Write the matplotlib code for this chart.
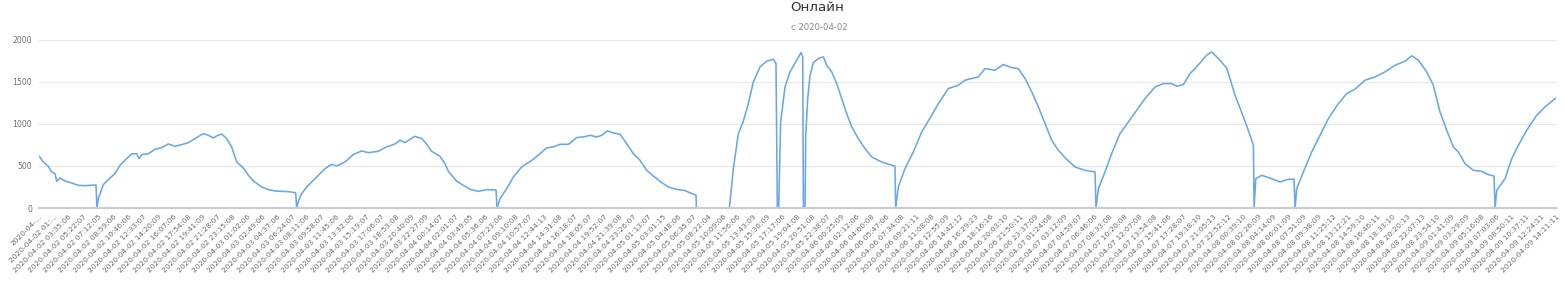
import matplotlib
matplotlib.use("Agg")
import matplotlib.pyplot as plt
import pandas as pd

# ---------------- data ----------------
title = "Онлайн"
subtitle = "с 2020-04-02"

tick_times = [
    "2020-04-02 00:01:06", "2020-04-02 01:48:06", "2020-04-02 03:35:06", "2020-04-02 05:22:07",
    "2020-04-02 07:12:05", "2020-04-02 08:59:06", "2020-04-02 10:46:06", "2020-04-02 12:33:07",
    "2020-04-02 14:20:09", "2020-04-02 16:07:06", "2020-04-02 17:54:08", "2020-04-02 19:41:09",
    "2020-04-02 21:28:07", "2020-04-02 23:15:08",
    "2020-04-03 01:02:06", "2020-04-03 02:49:06", "2020-04-03 04:37:06", "2020-04-03 06:24:07",
    "2020-04-03 08:11:06", "2020-04-03 09:58:07", "2020-04-03 11:45:06", "2020-04-03 13:32:06",
    "2020-04-03 15:19:07", "2020-04-03 17:06:07", "2020-04-03 18:53:08", "2020-04-03 20:40:09",
    "2020-04-03 22:27:09",
    "2020-04-04 00:14:07", "2020-04-04 02:01:07", "2020-04-04 03:49:05", "2020-04-04 05:36:06",
    "2020-04-04 07:23:06", "2020-04-04 09:10:08", "2020-04-04 10:57:07", "2020-04-04 12:44:13",
    "2020-04-04 14:31:08", "2020-04-04 16:18:07", "2020-04-04 18:05:07", "2020-04-04 19:52:07",
    "2020-04-04 21:39:08", "2020-04-04 23:26:07",
    "2020-04-05 01:13:07", "2020-04-05 03:01:15", "2020-04-05 04:48:06", "2020-04-05 06:35:07",
    "2020-04-05 08:22:04", "2020-04-05 10:09:06", "2020-04-05 11:56:06", "2020-04-05 13:43:09",
    "2020-04-05 15:30:09", "2020-04-05 17:17:06", "2020-04-05 19:04:08", "2020-04-05 20:51:08",
    "2020-04-05 22:38:07",
    "2020-04-06 00:25:09", "2020-04-06 02:12:06", "2020-04-06 04:00:08", "2020-04-06 05:47:06",
    "2020-04-06 07:34:08", "2020-04-06 09:21:11", "2020-04-06 11:08:08", "2020-04-06 12:55:09",
    "2020-04-06 14:42:12", "2020-04-06 16:29:23", "2020-04-06 18:16:16", "2020-04-06 20:03:10",
    "2020-04-06 21:50:11", "2020-04-06 23:37:09",
    "2020-04-07 01:24:08", "2020-04-07 03:12:09", "2020-04-07 04:59:07", "2020-04-07 06:46:06",
    "2020-04-07 08:33:08", "2020-04-07 10:20:08", "2020-04-07 12:07:08", "2020-04-07 13:54:08",
    "2020-04-07 15:41:06", "2020-04-07 17:28:07", "2020-04-07 19:18:10", "2020-04-07 21:05:13",
    "2020-04-07 22:52:12",
    "2020-04-08 00:39:10", "2020-04-08 02:26:09", "2020-04-08 04:14:09", "2020-04-08 06:01:09",
    "2020-04-08 07:51:09", "2020-04-08 09:38:09", "2020-04-08 11:25:12", "2020-04-08 13:12:21",
    "2020-04-08 14:59:10", "2020-04-08 16:46:11", "2020-04-08 18:33:10", "2020-04-08 20:20:13",
    "2020-04-08 22:07:13", "2020-04-08 23:54:10",
    "2020-04-09 01:41:09", "2020-04-09 03:29:09", "2020-04-09 05:16:08", "2020-04-09 07:03:06",
    "2020-04-09 08:50:11", "2020-04-09 10:37:11", "2020-04-09 12:24:11", "2020-04-09 14:11:11",
]
# labels as shown (the first two are cut off by the chart edge)
tick_labels = ["2020-04-...", "2020-04-02 01:..."] + tick_times[2:]

# hours since 2020-04-02 00:00 and online counts
hours = [
    0.02, 0.54, 1.14, 1.54, 1.94, 2.14, 2.54, 3.14, 3.94, 4.74, 5.54, 6.86, 6.98, 7.14, 7.74,
    8.34, 9.14, 9.74, 10.34, 11.14, 11.74, 12.03, 12.35, 13.15, 13.95, 14.75, 15.55, 16.35,
    17.15, 17.95, 18.75, 19.75, 20.35, 20.95, 21.35, 21.95, 22.55, 23.15, 23.76, 24.56, 25.16,
    25.76, 26.76, 27.56, 28.36, 29.96, 30.84, 30.96, 31.16, 31.56, 32.16, 32.76, 33.56, 34.36,
    35.16, 35.76, 36.76, 37.76, 38.76, 39.56, 40.76, 41.56, 42.76, 43.36, 43.96, 45.16, 45.97,
    46.37, 47.17, 48.17, 48.77, 49.17, 50.18, 50.98, 51.78, 52.78, 53.78, 54.90, 55.02, 55.38,
    56.18, 56.98, 57.98, 59.38, 60.18, 60.98, 61.78, 62.58, 63.59, 64.59, 65.39, 66.19, 66.99,
    67.59, 68.27, 68.99, 69.79, 70.59, 71.39, 72.19, 72.99, 73.79, 74.59, 75.59, 76.59, 77.60,
    78.92, 78.96, 82.92, 83.40, 84.00, 84.60, 85.20, 85.80, 86.60, 87.40, 88.20, 88.52, 88.68,
    88.84, 89.08, 89.60, 90.20, 91.01, 91.53, 91.73, 91.81, 92.01, 92.09, 92.33, 92.61, 93.01,
    93.61, 94.21, 94.61, 95.21, 95.81, 96.41, 97.01, 97.61, 98.41, 99.21, 100.01, 101.21,
    102.81, 102.89, 103.21, 104.01, 105.01, 106.02, 107.22, 108.02, 108.82, 109.22, 110.42,
    111.22, 112.02, 112.82, 113.62, 114.82, 115.82, 116.82, 117.62, 118.43, 119.23, 120.03,
    120.83, 121.63, 122.43, 123.43, 124.43, 125.63, 126.83, 126.95, 127.23, 128.03, 128.83,
    129.83, 130.84, 131.84, 132.84, 134.04, 135.04, 136.04, 136.64, 137.44, 138.24, 138.84,
    140.24, 140.84, 141.64, 142.64, 143.65, 144.65, 145.45, 145.85, 145.93, 146.13, 146.85,
    148.05, 149.05, 150.05, 150.73, 150.85, 151.05, 151.85, 152.85, 153.85, 154.85, 156.05,
    157.05, 158.05, 159.26, 160.46, 161.66, 162.86, 164.06, 164.86, 165.66, 166.66, 167.46,
    168.26, 169.06, 169.86, 170.46, 171.26, 172.26, 173.26, 174.06, 174.74, 174.87, 175.07,
    176.07, 176.87, 177.67, 178.67, 179.87, 180.87, 182.19,
]
online = [
    618, 546, 495, 428, 408, 317, 356, 321, 297, 269, 265, 273, 0, 111, 277,
    337, 408, 507, 566, 641, 645, 586, 634, 645, 697, 717, 760, 733,
    752, 776, 824, 883, 863, 832, 855, 879, 824, 725, 546, 475, 388,
    321, 249, 218, 202, 194, 182, 0, 79, 170, 249, 309, 388, 467,
    519, 499, 546, 634, 677, 657, 673, 717, 760, 804, 776, 851, 824,
    784, 673, 614, 527, 436, 317, 269, 222, 198, 218, 214, 0, 111,
    230, 368, 487, 578, 645, 713, 725, 756, 756, 836, 843, 863, 843,
    863, 915, 891, 875, 764, 645, 566, 447, 380, 317, 249, 222, 206,
    150, 0, 0, 467, 883, 1030, 1239, 1497, 1675, 1742, 1766, 1715, 0,
    0, 1022, 1437, 1616, 1754, 1845, 1794, 0, 0, 863, 1299, 1576, 1727,
    1774, 1794, 1695, 1616, 1477, 1299, 1121, 962, 824, 705, 606, 546,
    495, 0, 249, 467, 665, 903, 1101, 1239, 1358, 1418, 1457,
    1517, 1536, 1556, 1655, 1635, 1703, 1667, 1655, 1536, 1378, 1200,
    1002, 804, 685, 578, 487, 447, 428, 0, 230, 428, 645,
    883, 1022, 1160, 1299, 1437, 1477, 1477, 1445, 1465, 1596, 1655,
    1814, 1853, 1774, 1663, 1338, 1081, 863, 745, 0, 348, 388,
    348, 309, 341, 341, 0, 230, 428, 665, 863, 1061, 1239,
    1358, 1410, 1517, 1556, 1616, 1695, 1742, 1806, 1754, 1616, 1457,
    1140, 923, 725, 665, 527, 447, 436, 396, 380, 0, 210,
    348, 586, 745, 923, 1101, 1200, 1307,
]
y_ticks = [0, 500, 1000, 1500, 2000]

# ---------------- drawing ----------------
W, H = 1564, 285
fig = plt.figure(figsize=(W / 100, H / 100), dpi=100)
ax = fig.add_axes([39 / W, 77 / H, (1556 - 39) / W, (208 - 39.5) / H])

start = pd.Timestamp("2020-04-02 00:00:00")
tick_pos = [(pd.Timestamp(t) - start).total_seconds() / 3600 for t in tick_times]

ax.plot(hours, online, color="#6aa7e8", lw=1.15, solid_joinstyle="round")

ax.set_xlim(tick_pos[0], tick_pos[-1])
ax.set_ylim(0, 2000)
ax.set_yticks(y_ticks)
ax.set_yticklabels([str(v) for v in y_ticks])
ax.set_xticks(tick_pos)
ax.set_xticklabels(tick_labels, rotation=45, ha="right", va="top",
                   rotation_mode="anchor", fontsize=5.4, color="#6e6e6e")
ax.tick_params(axis="x", length=0, pad=4)
ax.tick_params(axis="y", length=0, pad=5, labelsize=5.6, labelcolor="#6e6e6e")

for v in y_ticks[1:]:
    ax.axhline(v, color="#e8e8e8", lw=0.9, zorder=0)
for s in ["top", "right", "left"]:
    ax.spines[s].set_visible(False)
ax.spines["bottom"].set_color("#c9cbd6")
ax.spines["bottom"].set_linewidth(1.6)

fig.text(817 / W, 1 - 7.7 / H, title, ha="center", va="center",
         fontsize=9.6, color="#333333")
fig.text(819 / W, 1 - 27 / H, subtitle, ha="center", va="center",
         fontsize=6.1, color="#8a8a8a")

fig.savefig("out.png", dpi=100)
